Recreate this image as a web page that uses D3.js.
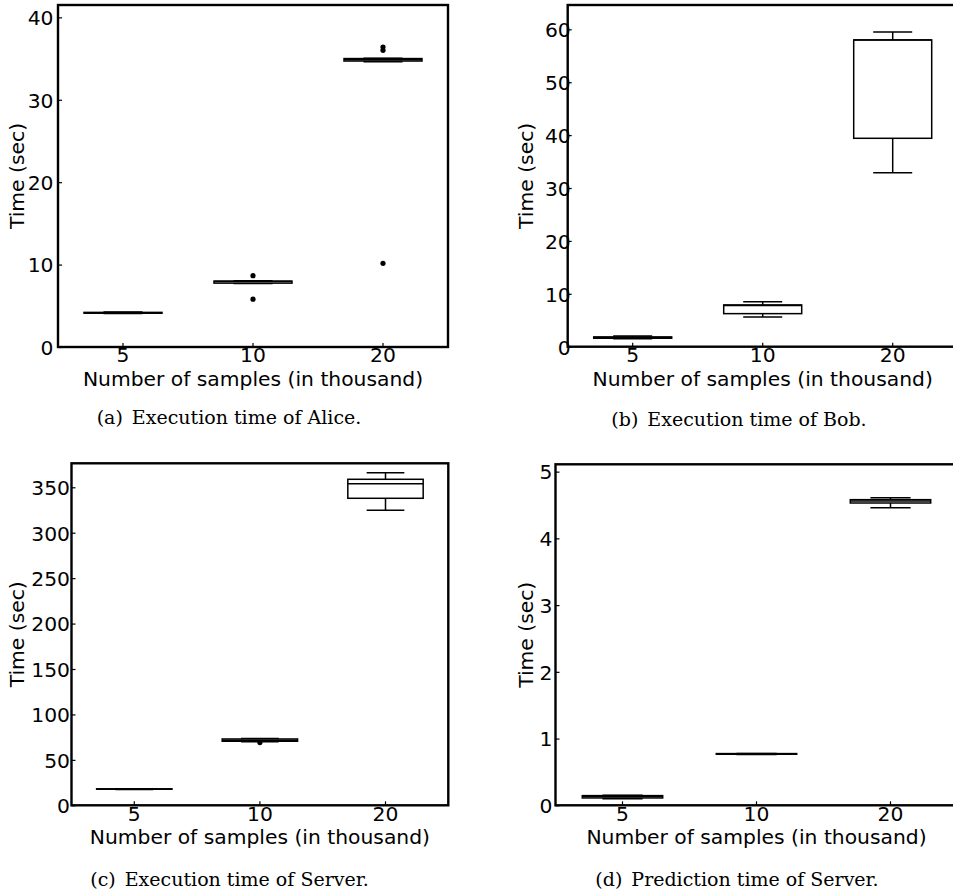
<!DOCTYPE html>
<html>
<head>
<meta charset="utf-8">
<script src="https://cdn.jsdelivr.net/npm/d3@7"></script>
<style>
  html, body { margin: 0; padding: 0; background: #fff; }
  svg { display: block; }
</style>
</head>
<body>
<svg id="chart" width="953" height="896"></svg>
<script>
// ---------------- DATA ----------------
const categories = ["5", "10", "20"];

// (a) Execution time of Alice
const aliceLow     = [4.05, 7.70, 34.60];
const aliceQ1      = [4.10, 7.75, 34.70];
const aliceMedian  = [4.15, 7.95, 34.85];
const aliceQ3      = [4.20, 8.00, 35.00];
const aliceHigh    = [4.25, 8.05, 35.05];
const aliceOutliers = [[], [8.65, 5.8], [36.0, 36.4, 10.15]];
const aliceTicks   = [0, 10, 20, 30, 40];

// (b) Execution time of Bob
const bobLow     = [1.5, 5.6, 32.9];
const bobQ1      = [1.6, 6.25, 39.4];
const bobMedian  = [1.75, 7.8, 58.0];
const bobQ3      = [1.85, 7.9, 58.0];
const bobHigh    = [2.0, 8.5, 59.5];
const bobOutliers = [[], [], []];
const bobTicks   = [0, 10, 20, 30, 40, 50, 60];

// (c) Execution time of Server
const serverLow     = [17.5, 70.0, 324.7];
const serverQ1      = [17.7, 70.5, 337.9];
const serverMedian  = [17.9, 71.5, 354.0];
const serverQ3      = [18.1, 73.0, 358.8];
const serverHigh    = [18.3, 73.5, 366.0];
const serverOutliers = [[], [69.0], []];
const serverTicks   = [0, 50, 100, 150, 200, 250, 300, 350];

// (d) Prediction time of Server
const predLow     = [0.10, 0.762, 4.46];
const predQ1      = [0.11, 0.765, 4.53];
const predMedian  = [0.13, 0.768, 4.56];
const predQ3      = [0.145, 0.775, 4.58];
const predHigh    = [0.15, 0.778, 4.61];
const predOutliers = [[], [], []];
const predTicks   = [0, 1, 2, 3, 4, 5];

const xLabel = "Number of samples (in thousand)";
const yLabel = "Time (sec)";
const captionTags  = ["(a)", "(b)", "(c)", "(d)"];
const captionTexts = ["Execution time of Alice.", "Execution time of Bob.",
                      "Execution time of Server.", "Prediction time of Server."];

// ---------------- LAYOUT ----------------
const panels = [
  { low: aliceLow, q1: aliceQ1, med: aliceMedian, q3: aliceQ3, high: aliceHigh, out: aliceOutliers,
    ticks: aliceTicks, ymax: 41.5, left: 58, right: 448, top: 5, bottom: 347, lblGap: 4.5,
    ylabX: 24, capX: 229, capDy: 77 },
  { low: bobLow, q1: bobQ1, med: bobMedian, q3: bobQ3, high: bobHigh, out: bobOutliers,
    ticks: bobTicks, ymax: 64.6, left: 567.7, right: 957.7, top: 5, bottom: 346.7, lblGap: -3,
    ylabX: 533, capX: 739, capDy: 79 },
  { low: serverLow, q1: serverQ1, med: serverMedian, q3: serverQ3, high: serverHigh, out: serverOutliers,
    ticks: serverTicks, ymax: 376.4, left: 71.5, right: 448.3, top: 463.3, bottom: 805.3, lblGap: 1.5,
    ylabX: 24, capX: 229.5, capDy: 81 },
  { low: predLow, q1: predQ1, med: predMedian, q3: predQ3, high: predHigh, out: predOutliers,
    ticks: predTicks, ymax: 5.11, left: 555.5, right: 957.5, top: 464.3, bottom: 805.3, lblGap: 3,
    ylabX: 533, capX: 737, capDy: 81 }
];

const svg = d3.select("#chart");
const FONT = "DejaVu Sans, sans-serif";
const FS = 20.3;

panels.forEach((p, i) => {
  const g = svg.append("g");
  const x = d3.scaleBand().domain(categories).range([p.left, p.right]).padding(0);
  const y = d3.scaleLinear().domain([0, p.ymax]).range([p.bottom, p.top]);
  const bw = x.bandwidth();
  const boxW = bw * 0.6;
  const capW = boxW * 0.5;
  const cx = c => x(c) + bw / 2;

  // Axes (ticks inward)
  const yAxis = d3.axisLeft(y).tickValues(p.ticks).tickSize(-4).tickPadding(p.lblGap).tickFormat(d3.format("d"));
  const ya = g.append("g").attr("transform", `translate(${p.left},0)`).call(yAxis);
  ya.select(".domain").remove();
  ya.selectAll("line").attr("stroke", "#000").attr("stroke-width", 1.2);
  ya.selectAll("text").attr("font-family", FONT).attr("font-size", FS).attr("fill", "#000").attr("dy", "0.36em");

  const xAxis = d3.axisBottom(x).tickSize(-4).tickPadding(1);
  const xa = g.append("g").attr("transform", `translate(0,${p.bottom})`).call(xAxis);
  xa.select(".domain").remove();
  xa.selectAll("line").attr("stroke", "#000").attr("stroke-width", 1.2);
  xa.selectAll("text").attr("font-family", FONT).attr("font-size", FS).attr("fill", "#000").attr("dy", "0.71em");

  // Boxes
  categories.forEach((c, k) => {
    const xc = cx(c);
    g.append("line").attr("x1", xc).attr("x2", xc).attr("y1", y(p.q3[k])).attr("y2", y(p.high[k]))
      .attr("stroke", "#000").attr("stroke-width", 1.5);
    g.append("line").attr("x1", xc).attr("x2", xc).attr("y1", y(p.q1[k])).attr("y2", y(p.low[k]))
      .attr("stroke", "#000").attr("stroke-width", 1.5);
    g.append("line").attr("x1", xc - capW / 2).attr("x2", xc + capW / 2).attr("y1", y(p.high[k])).attr("y2", y(p.high[k]))
      .attr("stroke", "#000").attr("stroke-width", 1.5);
    g.append("line").attr("x1", xc - capW / 2).attr("x2", xc + capW / 2).attr("y1", y(p.low[k])).attr("y2", y(p.low[k]))
      .attr("stroke", "#000").attr("stroke-width", 1.5);
    g.append("rect").attr("x", xc - boxW / 2).attr("width", boxW)
      .attr("y", y(p.q3[k])).attr("height", Math.max(0, y(p.q1[k]) - y(p.q3[k])))
      .attr("fill", "#fff").attr("stroke", "#000").attr("stroke-width", 1.5);
    g.append("line").attr("x1", xc - boxW / 2).attr("x2", xc + boxW / 2).attr("y1", y(p.med[k])).attr("y2", y(p.med[k]))
      .attr("stroke", "#000").attr("stroke-width", 1.5);
    p.out[k].forEach(v => {
      g.append("circle").attr("cx", xc).attr("cy", y(v)).attr("r", 2.6).attr("fill", "#000");
    });
  });

  // Frame
  g.append("rect").attr("x", p.left).attr("y", p.top).attr("width", p.right - p.left).attr("height", p.bottom - p.top)
    .attr("fill", "none").attr("stroke", "#000").attr("stroke-width", 2.4);

  // Axis labels
  const xmid = (p.left + p.right) / 2;
  g.append("text").attr("x", xmid).attr("y", p.bottom + 39).attr("text-anchor", "middle")
    .attr("font-family", FONT).attr("font-size", FS).attr("fill", "#000").text(xLabel);
  const ymid = (p.top + p.bottom) / 2;
  g.append("text").attr("transform", `translate(${p.ylabX},${ymid}) rotate(-90)`).attr("text-anchor", "middle")
    .attr("font-family", FONT).attr("font-size", FS).attr("fill", "#000").text(yLabel);

  // Caption
  const cap = g.append("text").attr("x", p.capX).attr("y", p.bottom + p.capDy).attr("text-anchor", "middle")
    .attr("font-family", "DejaVu Serif, serif").attr("font-size", 19).attr("fill", "#000");
  cap.append("tspan").text(captionTags[i]);
  cap.append("tspan").attr("dx", 9).text(captionTexts[i]);
});
</script>
</body>
</html>
